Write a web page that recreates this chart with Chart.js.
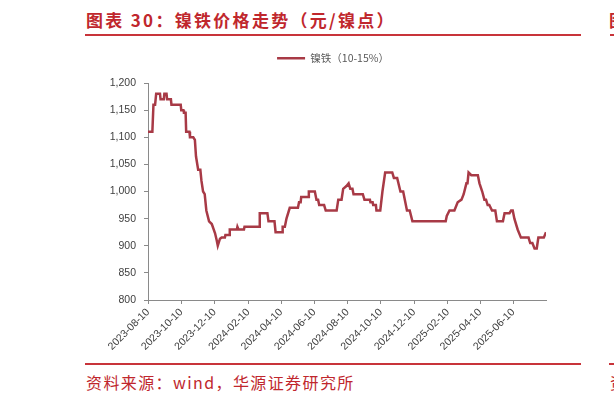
<!DOCTYPE html>
<html>
<head>
<meta charset="utf-8">
<script src="https://cdn.jsdelivr.net/npm/chart.js@4.4.1/dist/chart.umd.min.js"></script>
<style>
body{margin:0;width:614px;height:402px;background:#fff;overflow:hidden;position:relative;font-family:"Noto Sans CJK SC",sans-serif;}
.title{position:absolute;top:8px;font-size:17px;font-weight:bold;color:#C0272D;letter-spacing:2.3px;line-height:24px;white-space:nowrap}
.rule{position:absolute;height:2px;background:#C8343A}
.src{position:absolute;top:371px;font-size:16px;color:#C0272D;letter-spacing:1.4px;line-height:22px;white-space:nowrap}
#wrap{position:absolute;left:0;top:44px;width:614px;height:312px}
</style>
</head>
<body>
<div class="title" style="left:86px">图表 30：镍铁价格走势（元/镍点）</div>
<div class="rule" style="left:85px;width:496px;top:34px"></div>
<div class="title" style="left:609px">图</div>
<div class="rule" style="left:610px;width:10px;top:34px"></div>
<div id="wrap"><canvas id="niChart"></canvas></div>
<div class="rule" style="left:85px;width:496px;top:363px"></div>
<div class="rule" style="left:609px;width:10px;top:363px"></div>
<div class="src" style="left:86px">资料来源：wind，华源证券研究所</div>
<div class="src" style="left:610px">资</div>
<script>
// 镍铁（10-15%）price, 元/镍点
const dates = [
    '2023-08-10','2023-08-18','2023-08-20','2023-08-23','2023-08-25','2023-09-01','2023-09-02','2023-09-08',
    '2023-09-09','2023-09-13','2023-09-14','2023-09-21','2023-09-22','2023-10-09','2023-10-10','2023-10-14',
    '2023-10-15','2023-10-18','2023-10-19','2023-10-25','2023-10-26','2023-11-01','2023-11-04','2023-11-06',
    '2023-11-10','2023-11-14','2023-11-16','2023-11-19','2023-11-22','2023-11-25','2023-11-30','2023-12-05',
    '2023-12-11','2023-12-14','2023-12-16','2023-12-20','2023-12-23','2023-12-29','2023-12-30','2024-01-06',
    '2024-01-07','2024-01-20','2024-01-21','2024-01-23','2024-02-02','2024-02-03','2024-03-01','2024-03-02',
    '2024-03-16','2024-03-18','2024-03-29','2024-03-31','2024-04-12','2024-04-13','2024-04-17','2024-04-20',
    '2024-04-26','2024-05-11','2024-05-13','2024-05-16','2024-05-17','2024-05-30','2024-05-31','2024-06-11',
    '2024-06-14','2024-06-17','2024-06-19','2024-06-28','2024-07-01','2024-07-21','2024-07-24','2024-07-30',
    '2024-08-02','2024-08-08','2024-08-12','2024-08-15','2024-08-19','2024-08-21','2024-09-07','2024-09-10',
    '2024-09-20','2024-09-21','2024-09-25','2024-09-26','2024-10-01','2024-10-02','2024-10-09','2024-10-13',
    '2024-10-18','2024-10-31','2024-11-03','2024-11-09','2024-11-15','2024-11-20','2024-11-27','2024-12-02',
    '2024-12-07','2025-02-06','2025-02-08','2025-02-13','2025-02-22','2025-02-28','2025-03-07','2025-03-11',
    '2025-03-16','2025-03-18','2025-03-20','2025-03-25','2025-04-06','2025-04-09','2025-04-14','2025-04-18',
    '2025-04-21','2025-04-24','2025-04-27','2025-05-02','2025-05-08','2025-05-11','2025-05-22','2025-05-25',
    '2025-06-03','2025-06-06','2025-06-09','2025-06-12','2025-06-18','2025-06-24','2025-07-08','2025-07-11',
    '2025-07-15','2025-07-19','2025-07-23','2025-07-26','2025-08-05','2025-08-09'
];
const prices = [
    1110,1110,1160,1160,1180,1180,1170,1170,
    1180,1180,1170,1170,1160,1160,1150,1150,
    1145,1145,1110,1110,1100,1100,1095,1065,
    1040,1040,1020,1000,995,965,945,940,
    923,910,900,913,915,915,920,920,
    930,930,935,930,930,935,935,960,
    960,945,945,925,925,935,935,950,
    970,970,980,980,990,990,1000,1000,
    985,985,975,975,965,965,985,985,
    1005,1010,1015,1005,1005,995,995,985,
    985,980,980,975,975,965,965,1000,
    1035,1035,1025,1025,1000,1000,965,965,
    945,945,955,965,965,980,985,995,
    1015,1015,1035,1030,1030,1015,1000,985,
    985,975,975,965,965,945,945,960,
    960,965,965,950,930,915,915,905,
    905,895,895,915,915,925
];
const xTickLabels = ['2023-08-10','2023-10-10','2023-12-10','2024-02-10','2024-04-10','2024-06-10',
    '2024-08-10','2024-10-10','2024-12-10','2025-02-10','2025-04-10','2025-06-10'];
const yMin = 800, yMax = 1200, yStep = 50;

const baseDay = Date.UTC(2023, 7, 10);
function dayOf(s) {
    const p = s.split('-');
    return (Date.UTC(+p[0], +p[1] - 1, +p[2]) - baseDay) / 86400000;
}
const points = dates.map((d, i) => ({x: dayOf(d), y: prices[i]}));
const tickNames = {};
xTickLabels.forEach(l => { tickNames[dayOf(l)] = l; });

const axisColor = '#8a8a8a';
const labelFont = {family: '"Liberation Sans", Arial, sans-serif', size: 10.5};

// fixed legend height so the plot starts at the right place
const legendHeight = {
    id: 'legendHeight',
    beforeLayout(chart) {
        const lg = chart.legend;
        if (lg && !lg._patched) {
            const fit = lg.fit.bind(lg);
            lg.fit = function() { fit(); this.height = 39; };
            lg._patched = true;
        }
    }
};

const ctx = document.getElementById('niChart').getContext('2d');
new Chart(ctx, {
    type: 'line',
    data: {
        datasets: [{
            label: '镍铁（10-15%）',
            data: points,
            borderColor: '#A83A46',
            backgroundColor: '#A83A46',
            borderWidth: 2.5,
            pointRadius: 0,
            tension: 0,
            fill: false
        }]
    },
    options: {
        responsive: true,
        maintainAspectRatio: false,
        animation: false,
        layout: {padding: {left: 52, right: 0, top: 0, bottom: 0}},
        plugins: {
            legend: {
                display: true,
                position: 'top',
                labels: {
                    usePointStyle: true,
                    pointStyle: 'line',
                    pointStyleWidth: 28,
                    padding: 9,
                    color: '#595959',
                    font: {family: '"Noto Sans CJK SC", sans-serif', size: 10.5}
                }
            },
            tooltip: {enabled: false}
        },
        scales: {
            x: {
                type: 'linear',
                min: 0,
                max: dayOf(dates[dates.length - 1]),
                afterBuildTicks: function(scale) {
                    scale.ticks = xTickLabels.map(l => ({value: dayOf(l)}));
                },
                afterFit: function(scale) { scale.height = 56; },
                ticks: {
                    autoSkip: false,
                    minRotation: 45,
                    maxRotation: 45,
                    padding: 2,
                    color: '#404040',
                    font: labelFont,
                    callback: function(value) { return tickNames[value] || ''; }
                },
                grid: {display: true, drawOnChartArea: false, tickLength: 4, color: axisColor},
                border: {display: true, color: axisColor, width: 1}
            },
            y: {
                min: yMin,
                max: yMax,
                afterFit: function(scale) { scale.width = 96; },
                ticks: {
                    stepSize: yStep,
                    padding: 8,
                    color: '#404040',
                    font: labelFont,
                    callback: function(value) { return value.toLocaleString('en-US'); }
                },
                grid: {display: true, drawOnChartArea: false, tickLength: 4, color: axisColor},
                border: {display: true, color: axisColor, width: 1}
            },
            yRight: {
                position: 'right',
                min: yMin,
                max: yMax,
                afterFit: function(scale) { scale.width = 68; },
                ticks: {display: false},
                grid: {display: false},
                border: {display: false}
            }
        }
    },
    plugins: [legendHeight]
});
</script>
</body>
</html>
